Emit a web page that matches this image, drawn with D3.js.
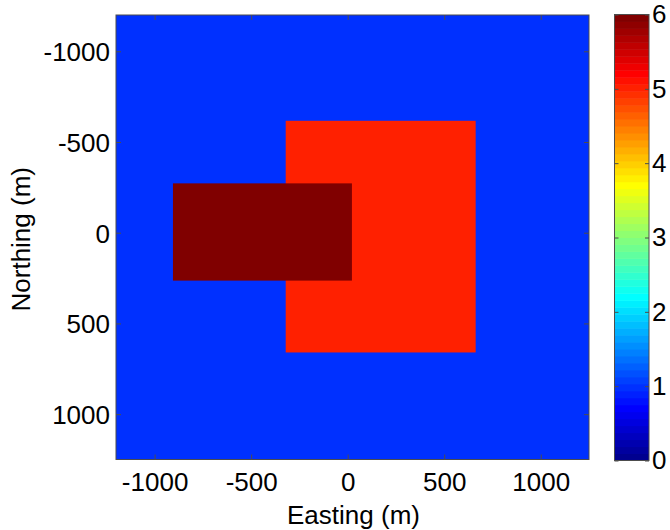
<!DOCTYPE html>
<html>
<head>
<meta charset="utf-8">
<script src="https://cdn.jsdelivr.net/npm/d3@7"></script>
<style>
  body { margin: 0; background: #fff; }
  svg { display: block; font-family: "Liberation Sans", Arial, Helvetica, sans-serif; }
</style>
</head>
<body>
<svg id="chart" width="670" height="530"></svg>
<script>
// Model extent (metres)
const eastingDomain = [-1200, 1250];
const northingDomain = [-1200, 1250];

// Rectangular blocks of the model, painted in order (later blocks on top)
const blockNames = ["background", "outer block", "inner block"];
const blockEastMin = [-1200, -321, -905];
const blockEastMax = [1250, 663, 22];
const blockNorthMin = [-1200, -617, -272];
const blockNorthMax = [1250, 660, 264];
const blockValues = [1, 5, 6];

// Tick values
const eastingTicks = [-1000, -500, 0, 500, 1000];
const northingTicks = [-1000, -500, 0, 500, 1000];
const colorTicks = [0, 1, 2, 3, 4, 5, 6];
const colorLimits = [0, 6];

// Layout
const plot = { left: 116, right: 589, top: 15, bottom: 459.5 };
const bar = { left: 614.5, right: 649, top: 14.5, bottom: 460.5 };
const fontSize = 26;
const frameColor = "#4d4d4d";
const plainNumber = d => String(d); // ASCII hyphen for negatives

// 64-level jet colormap, built the MATLAB way
function jetColormap(m) {
  const n = Math.ceil(m / 4);
  const u = [];
  for (let i = 1; i <= n; i++) u.push(i / n);
  for (let i = 1; i <= n - 1; i++) u.push(1);
  for (let i = n; i >= 1; i--) u.push(i / n);
  const off = Math.ceil(n / 2) - (m % 4 === 1 ? 1 : 0);
  const rgb = Array.from({ length: m }, () => [0, 0, 0]);
  u.forEach((val, k) => {
    const g = off + k + 1, r = g + n, b = g - n;
    if (r <= m) rgb[r - 1][0] = val;
    if (g <= m) rgb[g - 1][1] = val;
    if (b >= 1) rgb[b - 1][2] = val;
  });
  return rgb.map(c => d3.rgb(Math.round(c[0] * 255), Math.round(c[1] * 255), Math.round(c[2] * 255)).formatHex());
}
const jet = jetColormap(64);

const color = d3.scaleQuantize().domain(colorLimits).range(jet);
const x = d3.scaleLinear().domain(eastingDomain).range([plot.left, plot.right]);
const y = d3.scaleLinear().domain(northingDomain).range([plot.top, plot.bottom]);
const cy = d3.scaleLinear().domain(colorLimits).range([bar.bottom, bar.top]);

const svg = d3.select("#chart");

// Model blocks
const blocks = blockNames.map((name, i) => ({
  name, x0: blockEastMin[i], x1: blockEastMax[i],
  y0: blockNorthMin[i], y1: blockNorthMax[i], v: blockValues[i]
}));
svg.append("g").selectAll("rect").data(blocks).join("rect")
  .attr("x", d => x(d.x0))
  .attr("y", d => y(d.y0))
  .attr("width", d => x(d.x1) - x(d.x0))
  .attr("height", d => y(d.y1) - y(d.y0))
  .attr("fill", d => color(d.v));

// Axes with inward ticks on all four sides
function styleAxis(g) {
  g.select(".domain").remove();
  g.selectAll(".tick line").attr("stroke", frameColor);
  g.selectAll(".tick text").attr("fill", "#000").attr("font-size", fontSize)
    .attr("font-family", "'Liberation Sans', Arial, sans-serif");
}
svg.append("g").attr("transform", `translate(0,${plot.bottom})`)
  .call(d3.axisBottom(x).tickValues(eastingTicks).tickSizeInner(-5).tickSizeOuter(0).tickPadding(13).tickFormat(plainNumber))
  .call(styleAxis);
svg.append("g").attr("transform", `translate(0,${plot.top})`)
  .call(d3.axisTop(x).tickValues(eastingTicks).tickSizeInner(-5).tickSizeOuter(0).tickFormat(""))
  .call(styleAxis);
svg.append("g").attr("transform", `translate(${plot.left},0)`)
  .call(d3.axisLeft(y).tickValues(northingTicks).tickSizeInner(-5).tickSizeOuter(0).tickPadding(6).tickFormat(plainNumber))
  .call(styleAxis)
  .selectAll(".tick text").attr("dy", "0.36em");
svg.append("g").attr("transform", `translate(${plot.right},0)`)
  .call(d3.axisRight(y).tickValues(northingTicks).tickSizeInner(-5).tickSizeOuter(0).tickFormat(""))
  .call(styleAxis);

svg.append("rect")
  .attr("x", plot.left).attr("y", plot.top)
  .attr("width", plot.right - plot.left).attr("height", plot.bottom - plot.top)
  .attr("fill", "none").attr("stroke", frameColor).attr("stroke-width", 1);

// Axis titles
svg.append("text")
  .attr("x", (plot.left + plot.right) / 2 + 1).attr("y", 523.5)
  .attr("text-anchor", "middle").attr("font-size", fontSize)
  .text("Easting (m)");
svg.append("text")
  .attr("transform", `translate(30,${(plot.top + plot.bottom) / 2 + 2}) rotate(-90)`)
  .attr("text-anchor", "middle").attr("font-size", fontSize)
  .text("Northing (m)");

// Colorbar
const step = (colorLimits[1] - colorLimits[0]) / jet.length;
svg.append("g").selectAll("rect").data(jet).join("rect")
  .attr("x", bar.left)
  .attr("width", bar.right - bar.left)
  .attr("y", (d, i) => cy(colorLimits[0] + (i + 1) * step))
  .attr("height", (d, i) => cy(colorLimits[0] + i * step) - cy(colorLimits[0] + (i + 1) * step) + 0.5)
  .attr("fill", d => d);

svg.append("g").attr("transform", `translate(${bar.right},0)`)
  .call(d3.axisRight(cy).tickValues(colorTicks).tickSizeInner(-4).tickSizeOuter(0).tickPadding(3).tickFormat(plainNumber))
  .call(styleAxis);
svg.append("g").attr("transform", `translate(${bar.left},0)`)
  .call(d3.axisLeft(cy).tickValues(colorTicks).tickSizeInner(-4).tickSizeOuter(0).tickFormat(""))
  .call(styleAxis);
svg.append("rect")
  .attr("x", bar.left).attr("y", bar.top)
  .attr("width", bar.right - bar.left).attr("height", bar.bottom - bar.top)
  .attr("fill", "none").attr("stroke", frameColor).attr("stroke-width", 1);
</script>
</body>
</html>
